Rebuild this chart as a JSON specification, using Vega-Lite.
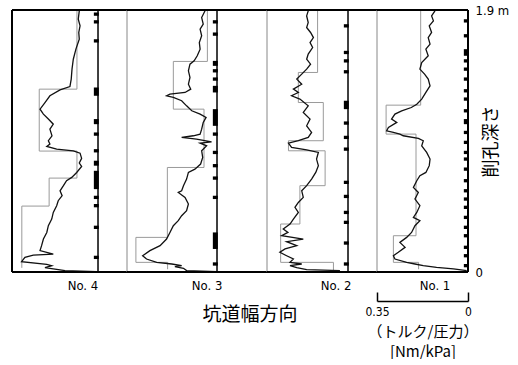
{
"$schema":"https://vega.github.io/schema/vega-lite/v6.json",
"background":"white",
"padding":{"left":11,"top":4,"right":0,"bottom":0},
"autosize":{"type":"pad"},
"bounds":"flush",
"spacing":0,
"config":{"view":{"stroke":null},"axis":{"grid":false}},
"datasets":{
"prof":[
{"no":4,"d":1.894,"v":0.072},{"no":4,"d":1.833,"v":0.076},{"no":4,"d":1.785,"v":0.069},{"no":4,"d":1.737,"v":0.074},{"no":4,"d":1.688,"v":0.072},{"no":4,"d":1.616,"v":0.085},{"no":4,"d":1.543,"v":0.095},{"no":4,"d":1.471,"v":0.100},{"no":4,"d":1.399,"v":0.103},{"no":4,"d":1.345,"v":0.108},{"no":4,"d":1.321,"v":0.146},{"no":4,"d":1.278,"v":0.185},{"no":4,"d":1.229,"v":0.204},{"no":4,"d":1.181,"v":0.223},{"no":4,"d":1.145,"v":0.210},{"no":4,"d":1.109,"v":0.191},{"no":4,"d":1.072,"v":0.172},{"no":4,"d":1.036,"v":0.185},{"no":4,"d":0.988,"v":0.177},{"no":4,"d":0.952,"v":0.191},{"no":4,"d":0.928,"v":0.185},{"no":4,"d":0.911,"v":0.197},{"no":4,"d":0.891,"v":0.159},{"no":4,"d":0.879,"v":0.095},{"no":4,"d":0.862,"v":0.069},{"no":4,"d":0.824,"v":0.063},{"no":4,"d":0.790,"v":0.072},{"no":4,"d":0.766,"v":0.063},{"no":4,"d":0.722,"v":0.082},{"no":4,"d":0.686,"v":0.101},{"no":4,"d":0.662,"v":0.121},{"no":4,"d":0.626,"v":0.133},{"no":4,"d":0.589,"v":0.146},{"no":4,"d":0.553,"v":0.138},{"no":4,"d":0.517,"v":0.153},{"no":4,"d":0.481,"v":0.159},{"no":4,"d":0.432,"v":0.172},{"no":4,"d":0.384,"v":0.178},{"no":4,"d":0.336,"v":0.191},{"no":4,"d":0.287,"v":0.197},{"no":4,"d":0.239,"v":0.210},{"no":4,"d":0.191,"v":0.217},{"no":4,"d":0.155,"v":0.223},{"no":4,"d":0.130,"v":0.172},{"no":4,"d":0.123,"v":0.249},{"no":4,"d":0.106,"v":0.281},{"no":4,"d":0.075,"v":0.294},{"no":4,"d":0.056,"v":0.197},{"no":4,"d":0.046,"v":0.178},{"no":4,"d":0.031,"v":0.204},{"no":4,"d":0.022,"v":0.172},{"no":4,"d":0.010,"v":0.127},{"no":4,"d":0.002,"v":0.005},
{"no":3,"d":1.894,"v":0.046},{"no":3,"d":1.845,"v":0.059},{"no":3,"d":1.797,"v":0.053},{"no":3,"d":1.761,"v":0.065},{"no":3,"d":1.713,"v":0.059},{"no":3,"d":1.664,"v":0.068},{"no":3,"d":1.616,"v":0.065},{"no":3,"d":1.568,"v":0.076},{"no":3,"d":1.531,"v":0.088},{"no":3,"d":1.507,"v":0.104},{"no":3,"d":1.459,"v":0.110},{"no":3,"d":1.411,"v":0.104},{"no":3,"d":1.362,"v":0.110},{"no":3,"d":1.326,"v":0.101},{"no":3,"d":1.302,"v":0.123},{"no":3,"d":1.290,"v":0.181},{"no":3,"d":1.278,"v":0.194},{"no":3,"d":1.266,"v":0.168},{"no":3,"d":1.242,"v":0.136},{"no":3,"d":1.205,"v":0.117},{"no":3,"d":1.169,"v":0.097},{"no":3,"d":1.145,"v":0.065},{"no":3,"d":1.121,"v":0.042},{"no":3,"d":1.085,"v":0.053},{"no":3,"d":1.036,"v":0.059},{"no":3,"d":1.000,"v":0.065},{"no":3,"d":0.988,"v":0.091},{"no":3,"d":0.976,"v":0.136},{"no":3,"d":0.964,"v":0.079},{"no":3,"d":0.944,"v":0.021},{"no":3,"d":0.935,"v":0.065},{"no":3,"d":0.915,"v":0.040},{"no":3,"d":0.879,"v":0.059},{"no":3,"d":0.831,"v":0.055},{"no":3,"d":0.783,"v":0.063},{"no":3,"d":0.746,"v":0.085},{"no":3,"d":0.722,"v":0.110},{"no":3,"d":0.674,"v":0.117},{"no":3,"d":0.626,"v":0.129},{"no":3,"d":0.589,"v":0.136},{"no":3,"d":0.577,"v":0.149},{"no":3,"d":0.541,"v":0.123},{"no":3,"d":0.493,"v":0.110},{"no":3,"d":0.444,"v":0.117},{"no":3,"d":0.408,"v":0.136},{"no":3,"d":0.372,"v":0.149},{"no":3,"d":0.336,"v":0.168},{"no":3,"d":0.287,"v":0.181},{"no":3,"d":0.239,"v":0.194},{"no":3,"d":0.191,"v":0.219},{"no":3,"d":0.155,"v":0.258},{"no":3,"d":0.118,"v":0.286},{"no":3,"d":0.094,"v":0.271},{"no":3,"d":0.070,"v":0.232},{"no":3,"d":0.058,"v":0.174},{"no":3,"d":0.046,"v":0.136},{"no":3,"d":0.039,"v":0.162},{"no":3,"d":0.027,"v":0.129},{"no":3,"d":0.010,"v":0.117},{"no":3,"d":0.002,"v":0.001},
{"no":2,"d":1.894,"v":0.153},{"no":2,"d":1.857,"v":0.159},{"no":2,"d":1.809,"v":0.153},{"no":2,"d":1.773,"v":0.159},{"no":2,"d":1.737,"v":0.144},{"no":2,"d":1.700,"v":0.133},{"no":2,"d":1.664,"v":0.146},{"no":2,"d":1.628,"v":0.136},{"no":2,"d":1.580,"v":0.153},{"no":2,"d":1.543,"v":0.159},{"no":2,"d":1.507,"v":0.144},{"no":2,"d":1.471,"v":0.159},{"no":2,"d":1.435,"v":0.178},{"no":2,"d":1.399,"v":0.197},{"no":2,"d":1.362,"v":0.178},{"no":2,"d":1.326,"v":0.210},{"no":2,"d":1.302,"v":0.191},{"no":2,"d":1.278,"v":0.217},{"no":2,"d":1.254,"v":0.185},{"no":2,"d":1.205,"v":0.153},{"no":2,"d":1.157,"v":0.172},{"no":2,"d":1.109,"v":0.146},{"no":2,"d":1.060,"v":0.159},{"no":2,"d":1.012,"v":0.140},{"no":2,"d":0.976,"v":0.153},{"no":2,"d":0.952,"v":0.191},{"no":2,"d":0.935,"v":0.229},{"no":2,"d":0.903,"v":0.217},{"no":2,"d":0.886,"v":0.159},{"no":2,"d":0.867,"v":0.114},{"no":2,"d":0.819,"v":0.121},{"no":2,"d":0.771,"v":0.114},{"no":2,"d":0.722,"v":0.124},{"no":2,"d":0.674,"v":0.140},{"no":2,"d":0.626,"v":0.159},{"no":2,"d":0.589,"v":0.178},{"no":2,"d":0.541,"v":0.172},{"no":2,"d":0.504,"v":0.191},{"no":2,"d":0.469,"v":0.204},{"no":2,"d":0.432,"v":0.191},{"no":2,"d":0.384,"v":0.210},{"no":2,"d":0.348,"v":0.223},{"no":2,"d":0.312,"v":0.249},{"no":2,"d":0.287,"v":0.231},{"no":2,"d":0.263,"v":0.255},{"no":2,"d":0.239,"v":0.172},{"no":2,"d":0.220,"v":0.236},{"no":2,"d":0.191,"v":0.197},{"no":2,"d":0.167,"v":0.242},{"no":2,"d":0.143,"v":0.262},{"no":2,"d":0.118,"v":0.236},{"no":2,"d":0.094,"v":0.210},{"no":2,"d":0.070,"v":0.223},{"no":2,"d":0.058,"v":0.178},{"no":2,"d":0.046,"v":0.223},{"no":2,"d":0.031,"v":0.197},{"no":2,"d":0.017,"v":0.159},{"no":2,"d":0.010,"v":0.031},
{"no":1,"d":1.894,"v":0.127},{"no":1,"d":1.857,"v":0.140},{"no":1,"d":1.821,"v":0.133},{"no":1,"d":1.785,"v":0.149},{"no":1,"d":1.737,"v":0.140},{"no":1,"d":1.700,"v":0.153},{"no":1,"d":1.652,"v":0.146},{"no":1,"d":1.616,"v":0.162},{"no":1,"d":1.568,"v":0.153},{"no":1,"d":1.519,"v":0.178},{"no":1,"d":1.471,"v":0.185},{"no":1,"d":1.435,"v":0.167},{"no":1,"d":1.399,"v":0.153},{"no":1,"d":1.350,"v":0.146},{"no":1,"d":1.302,"v":0.162},{"no":1,"d":1.254,"v":0.178},{"no":1,"d":1.217,"v":0.197},{"no":1,"d":1.193,"v":0.218},{"no":1,"d":1.169,"v":0.255},{"no":1,"d":1.145,"v":0.281},{"no":1,"d":1.109,"v":0.294},{"no":1,"d":1.085,"v":0.274},{"no":1,"d":1.048,"v":0.306},{"no":1,"d":1.024,"v":0.313},{"no":1,"d":1.012,"v":0.287},{"no":1,"d":1.000,"v":0.262},{"no":1,"d":0.988,"v":0.249},{"no":1,"d":0.969,"v":0.191},{"no":1,"d":0.952,"v":0.172},{"no":1,"d":0.915,"v":0.178},{"no":1,"d":0.867,"v":0.159},{"no":1,"d":0.819,"v":0.146},{"no":1,"d":0.771,"v":0.149},{"no":1,"d":0.722,"v":0.162},{"no":1,"d":0.698,"v":0.185},{"no":1,"d":0.662,"v":0.197},{"no":1,"d":0.614,"v":0.210},{"no":1,"d":0.577,"v":0.191},{"no":1,"d":0.529,"v":0.204},{"no":1,"d":0.481,"v":0.185},{"no":1,"d":0.432,"v":0.197},{"no":1,"d":0.396,"v":0.210},{"no":1,"d":0.372,"v":0.185},{"no":1,"d":0.336,"v":0.204},{"no":1,"d":0.287,"v":0.217},{"no":1,"d":0.251,"v":0.236},{"no":1,"d":0.215,"v":0.262},{"no":1,"d":0.179,"v":0.242},{"no":1,"d":0.143,"v":0.268},{"no":1,"d":0.118,"v":0.287},{"no":1,"d":0.094,"v":0.281},{"no":1,"d":0.070,"v":0.236},{"no":1,"d":0.058,"v":0.204},{"no":1,"d":0.046,"v":0.172},{"no":1,"d":0.034,"v":0.121},{"no":1,"d":0.022,"v":0.056},{"no":1,"d":0.010,"v":0.005}
],
"step":[
{"no":4,"d":1.9,"v":0.081},{"no":4,"d":1.326,"v":0.081},{"no":4,"d":1.326,"v":0.226},{"no":4,"d":0.877,"v":0.226},{"no":4,"d":0.877,"v":0.081},{"no":4,"d":0.681,"v":0.081},{"no":4,"d":0.681,"v":0.188},{"no":4,"d":0.478,"v":0.188},{"no":4,"d":0.478,"v":0.293},{"no":4,"d":0.03,"v":0.293},
{"no":3,"d":1.9,"v":0.037},{"no":3,"d":1.527,"v":0.037},{"no":3,"d":1.527,"v":0.168},{"no":3,"d":1.181,"v":0.168},{"no":3,"d":1.181,"v":0.050},{"no":3,"d":0.758,"v":0.050},{"no":3,"d":0.758,"v":0.191},{"no":3,"d":0.251,"v":0.191},{"no":3,"d":0.251,"v":0.312},{"no":3,"d":0.070,"v":0.312},{"no":3,"d":0.070,"v":0.19},{"no":3,"d":0.02,"v":0.19},
{"no":2,"d":1.9,"v":0.117},{"no":2,"d":1.447,"v":0.117},{"no":2,"d":1.447,"v":0.191},{"no":2,"d":1.229,"v":0.191},{"no":2,"d":1.229,"v":0.095},{"no":2,"d":0.952,"v":0.095},{"no":2,"d":0.952,"v":0.229},{"no":2,"d":0.879,"v":0.229},{"no":2,"d":0.879,"v":0.088},{"no":2,"d":0.626,"v":0.088},{"no":2,"d":0.626,"v":0.185},{"no":2,"d":0.348,"v":0.185},{"no":2,"d":0.348,"v":0.259},{"no":2,"d":0.070,"v":0.259},{"no":2,"d":0.070,"v":0.056},{"no":2,"d":0.010,"v":0.056},
{"no":1,"d":1.9,"v":0.182},{"no":1,"d":1.210,"v":0.182},{"no":1,"d":1.210,"v":0.315},{"no":1,"d":1.0,"v":0.315},{"no":1,"d":1.0,"v":0.2},{"no":1,"d":0.263,"v":0.2},{"no":1,"d":0.263,"v":0.287},{"no":1,"d":0.070,"v":0.287},{"no":1,"d":0.070,"v":0.19},{"no":1,"d":0.02,"v":0.19}
],
"joint":[
{"no":4,"d1":1.858,"d2":1.882},{"no":4,"d1":1.802,"d2":1.826},{"no":4,"d1":1.664,"d2":1.688},{"no":4,"d1":1.278,"d2":1.338},{"no":4,"d1":1.072,"d2":1.109},{"no":4,"d1":0.988,"d2":1.012},{"no":4,"d1":0.867,"d2":0.891},{"no":4,"d1":0.771,"d2":0.807},{"no":4,"d1":0.601,"d2":0.734},{"no":4,"d1":0.529,"d2":0.553},{"no":4,"d1":0.469,"d2":0.493},{"no":4,"d1":0.312,"d2":0.336},{"no":4,"d1":0.094,"d2":0.118},
{"no":3,"d1":1.802,"d2":1.826},{"no":3,"d1":1.713,"d2":1.737},{"no":3,"d1":1.495,"d2":1.531},{"no":3,"d1":1.447,"d2":1.471},{"no":3,"d1":1.387,"d2":1.411},{"no":3,"d1":1.302,"d2":1.350},{"no":3,"d1":1.060,"d2":1.181},{"no":3,"d1":0.988,"d2":1.012},{"no":3,"d1":0.855,"d2":0.879},{"no":3,"d1":0.759,"d2":0.783},{"no":3,"d1":0.669,"d2":0.693},{"no":3,"d1":0.529,"d2":0.553},{"no":3,"d1":0.167,"d2":0.287},{"no":3,"d1":0.046,"d2":0.070},
{"no":2,"d1":1.773,"d2":1.797},{"no":2,"d1":1.580,"d2":1.604},{"no":2,"d1":1.519,"d2":1.543},{"no":2,"d1":1.440,"d2":1.464},{"no":2,"d1":1.181,"d2":1.242},{"no":2,"d1":1.068,"d2":1.092},{"no":2,"d1":0.964,"d2":0.988},{"no":2,"d1":0.879,"d2":0.903},{"no":2,"d1":0.638,"d2":0.662},{"no":2,"d1":0.536,"d2":0.560},{"no":2,"d1":0.420,"d2":0.444},{"no":2,"d1":0.348,"d2":0.372},{"no":2,"d1":0.198,"d2":0.222},{"no":2,"d1":0.046,"d2":0.070},
{"no":1,"d1":1.809,"d2":1.833},{"no":1,"d1":1.701,"d2":1.725},{"no":1,"d1":1.568,"d2":1.616},{"no":1,"d1":1.519,"d2":1.543},{"no":1,"d1":1.459,"d2":1.483},{"no":1,"d1":1.387,"d2":1.411},{"no":1,"d1":1.302,"d2":1.326},{"no":1,"d1":1.242,"d2":1.266},{"no":1,"d1":1.157,"d2":1.181},{"no":1,"d1":1.072,"d2":1.109},{"no":1,"d1":1.000,"d2":1.024},{"no":1,"d1":0.928,"d2":0.952},{"no":1,"d1":0.855,"d2":0.879},{"no":1,"d1":0.807,"d2":0.831},{"no":1,"d1":0.734,"d2":0.758},{"no":1,"d1":0.650,"d2":0.674},{"no":1,"d1":0.577,"d2":0.601},{"no":1,"d1":0.517,"d2":0.541},{"no":1,"d1":0.457,"d2":0.481},{"no":1,"d1":0.384,"d2":0.408},{"no":1,"d1":0.312,"d2":0.336},{"no":1,"d1":0.251,"d2":0.275},{"no":1,"d1":0.167,"d2":0.191},{"no":1,"d1":0.106,"d2":0.130},{"no":1,"d1":0.034,"d2":0.058}
]
},
"hconcat":[
{"width":115,"height":262,"layer":[
{"data":{"values":[{}]},"mark":{"type":"rule","color":"#000","strokeWidth":2},"encoding":{"x":{"datum":0.3308,"type":"quantitative","scale":{"domain":[-0.1115,0.3308],"reverse":true,"nice":false,"zero":false},"axis":null}}},
{"data":{"name":"step"},"transform":[{"filter":"datum.no == 4"}],"mark":{"type":"line","color":"#9a9a9a","strokeWidth":1},"encoding":{"x":{"field":"v","type":"quantitative","scale":{"domain":[-0.1115,0.3308],"reverse":true,"nice":false,"zero":false},"axis":null},"y":{"field":"d","type":"quantitative","scale":{"domain":[0,1.9],"nice":false,"zero":false},"axis":null},"order":{"value":null}}},
{"data":{"name":"prof"},"transform":[{"filter":"datum.no == 4"}],"mark":{"type":"line","color":"#111","strokeWidth":1.3},"encoding":{"x":{"field":"v","type":"quantitative","scale":{"domain":[-0.1115,0.3308],"reverse":true,"nice":false,"zero":false},"axis":null},"y":{"field":"d","type":"quantitative","scale":{"domain":[0,1.9],"nice":false,"zero":false},"axis":null},"order":{"value":null}}},
{"data":{"name":"joint"},"transform":[{"filter":"datum.no == 4"}],"mark":{"type":"rect","color":"#000"},"encoding":{"x":{"datum":0.016,"type":"quantitative","scale":{"domain":[-0.1115,0.3308],"reverse":true,"nice":false,"zero":false},"axis":null},"x2":{"datum":-0.003},"y":{"field":"d1","type":"quantitative","scale":{"domain":[0,1.9],"nice":false,"zero":false},"axis":null},"y2":{"field":"d2"}}},
{"data":{"values":[{}]},"mark":{"type":"rule","color":"#000","strokeWidth":1.5},"encoding":{"x":{"datum":0,"type":"quantitative","scale":{"domain":[-0.1115,0.3308],"reverse":true,"nice":false,"zero":false},"axis":null}}},
{"data":{"values":[{}]},"mark":{"type":"rule","color":"#000","strokeWidth":2},"encoding":{"y":{"datum":1.9,"type":"quantitative","scale":{"domain":[0,1.9],"nice":false,"zero":false},"axis":null}}},
{"data":{"values":[{}]},"mark":{"type":"rule","color":"#000","strokeWidth":2},"encoding":{"y":{"datum":0,"type":"quantitative","scale":{"domain":[0,1.9],"nice":false,"zero":false},"axis":null}}},
{"data":{"values":[{"label":"No. 4"}]},"mark":{"type":"text","font":"Liberation Sans Narrow, DejaVu Sans Condensed, sans-serif","fontSize":13,"color":"#000","baseline":"middle"},"encoding":{"x":{"datum":0.058,"type":"quantitative","scale":{"domain":[-0.1115,0.3308],"reverse":true,"nice":false,"zero":false},"axis":null},"y":{"datum":-0.1,"type":"quantitative","scale":{"domain":[0,1.9],"nice":false,"zero":false},"axis":null},"text":{"field":"label"}}}
]},
{"width":140,"height":262,"layer":[
{"data":{"values":[{}]},"mark":{"type":"rule","color":"#888","strokeWidth":1},"encoding":{"x":{"datum":0.3462,"type":"quantitative","scale":{"domain":[-0.1923,0.3462],"reverse":true,"nice":false,"zero":false},"axis":null}}},
{"data":{"name":"step"},"transform":[{"filter":"datum.no == 3"}],"mark":{"type":"line","color":"#9a9a9a","strokeWidth":1},"encoding":{"x":{"field":"v","type":"quantitative","scale":{"domain":[-0.1923,0.3462],"reverse":true,"nice":false,"zero":false},"axis":null},"y":{"field":"d","type":"quantitative","scale":{"domain":[0,1.9],"nice":false,"zero":false},"axis":null},"order":{"value":null}}},
{"data":{"name":"prof"},"transform":[{"filter":"datum.no == 3"}],"mark":{"type":"line","color":"#111","strokeWidth":1.3},"encoding":{"x":{"field":"v","type":"quantitative","scale":{"domain":[-0.1923,0.3462],"reverse":true,"nice":false,"zero":false},"axis":null},"y":{"field":"d","type":"quantitative","scale":{"domain":[0,1.9],"nice":false,"zero":false},"axis":null},"order":{"value":null}}},
{"data":{"name":"joint"},"transform":[{"filter":"datum.no == 3"}],"mark":{"type":"rect","color":"#000"},"encoding":{"x":{"datum":0.016,"type":"quantitative","scale":{"domain":[-0.1923,0.3462],"reverse":true,"nice":false,"zero":false},"axis":null},"x2":{"datum":-0.003},"y":{"field":"d1","type":"quantitative","scale":{"domain":[0,1.9],"nice":false,"zero":false},"axis":null},"y2":{"field":"d2"}}},
{"data":{"values":[{}]},"mark":{"type":"rule","color":"#000","strokeWidth":1.5},"encoding":{"x":{"datum":0,"type":"quantitative","scale":{"domain":[-0.1923,0.3462],"reverse":true,"nice":false,"zero":false},"axis":null}}},
{"data":{"values":[{}]},"mark":{"type":"rule","color":"#000","strokeWidth":2},"encoding":{"y":{"datum":1.9,"type":"quantitative","scale":{"domain":[0,1.9],"nice":false,"zero":false},"axis":null}}},
{"data":{"values":[{}]},"mark":{"type":"rule","color":"#000","strokeWidth":2},"encoding":{"y":{"datum":0,"type":"quantitative","scale":{"domain":[0,1.9],"nice":false,"zero":false},"axis":null}}},
{"data":{"values":[{"label":"No. 3"}]},"mark":{"type":"text","font":"Liberation Sans Narrow, DejaVu Sans Condensed, sans-serif","fontSize":13,"color":"#000","baseline":"middle"},"encoding":{"x":{"datum":0.038,"type":"quantitative","scale":{"domain":[-0.1923,0.3462],"reverse":true,"nice":false,"zero":false},"axis":null},"y":{"datum":-0.1,"type":"quantitative","scale":{"domain":[0,1.9],"nice":false,"zero":false},"axis":null},"text":{"field":"label"}}},
{"data":{"values":[{"label":"坑道幅方向"}]},"mark":{"type":"text","font":"Noto Sans CJK JP","fontSize":19,"color":"#000","baseline":"middle"},"encoding":{"x":{"datum":-0.127,"type":"quantitative","scale":{"domain":[-0.1923,0.3462],"reverse":true,"nice":false,"zero":false},"axis":null},"y":{"datum":-0.315,"type":"quantitative","scale":{"domain":[0,1.9],"nice":false,"zero":false},"axis":null},"text":{"field":"label"}}}
]},
{"width":110,"height":262,"layer":[
{"data":{"values":[{}]},"mark":{"type":"rule","color":"#888","strokeWidth":1},"encoding":{"x":{"datum":0.3115,"type":"quantitative","scale":{"domain":[-0.1115,0.3115],"reverse":true,"nice":false,"zero":false},"axis":null}}},
{"data":{"name":"step"},"transform":[{"filter":"datum.no == 2"}],"mark":{"type":"line","color":"#9a9a9a","strokeWidth":1},"encoding":{"x":{"field":"v","type":"quantitative","scale":{"domain":[-0.1115,0.3115],"reverse":true,"nice":false,"zero":false},"axis":null},"y":{"field":"d","type":"quantitative","scale":{"domain":[0,1.9],"nice":false,"zero":false},"axis":null},"order":{"value":null}}},
{"data":{"name":"prof"},"transform":[{"filter":"datum.no == 2"}],"mark":{"type":"line","color":"#111","strokeWidth":1.3},"encoding":{"x":{"field":"v","type":"quantitative","scale":{"domain":[-0.1115,0.3115],"reverse":true,"nice":false,"zero":false},"axis":null},"y":{"field":"d","type":"quantitative","scale":{"domain":[0,1.9],"nice":false,"zero":false},"axis":null},"order":{"value":null}}},
{"data":{"name":"joint"},"transform":[{"filter":"datum.no == 2"}],"mark":{"type":"rect","color":"#000"},"encoding":{"x":{"datum":0.016,"type":"quantitative","scale":{"domain":[-0.1115,0.3115],"reverse":true,"nice":false,"zero":false},"axis":null},"x2":{"datum":-0.003},"y":{"field":"d1","type":"quantitative","scale":{"domain":[0,1.9],"nice":false,"zero":false},"axis":null},"y2":{"field":"d2"}}},
{"data":{"values":[{}]},"mark":{"type":"rule","color":"#000","strokeWidth":1.5},"encoding":{"x":{"datum":0,"type":"quantitative","scale":{"domain":[-0.1115,0.3115],"reverse":true,"nice":false,"zero":false},"axis":null}}},
{"data":{"values":[{}]},"mark":{"type":"rule","color":"#000","strokeWidth":2},"encoding":{"y":{"datum":1.9,"type":"quantitative","scale":{"domain":[0,1.9],"nice":false,"zero":false},"axis":null}}},
{"data":{"values":[{}]},"mark":{"type":"rule","color":"#000","strokeWidth":2},"encoding":{"y":{"datum":0,"type":"quantitative","scale":{"domain":[0,1.9],"nice":false,"zero":false},"axis":null}}},
{"data":{"values":[{"label":"No. 2"}]},"mark":{"type":"text","font":"Liberation Sans Narrow, DejaVu Sans Condensed, sans-serif","fontSize":13,"color":"#000","baseline":"middle"},"encoding":{"x":{"datum":0.046,"type":"quantitative","scale":{"domain":[-0.1115,0.3115],"reverse":true,"nice":false,"zero":false},"axis":null},"y":{"datum":-0.1,"type":"quantitative","scale":{"domain":[0,1.9],"nice":false,"zero":false},"axis":null},"text":{"field":"label"}}}
]},
{"width":91,"height":262,"resolve":{"axis":{"x":"independent","y":"independent"}},"layer":[
{"data":{"values":[{}]},"mark":{"type":"rule","color":"#888","strokeWidth":1},"encoding":{"x":{"datum":0.35,"type":"quantitative","scale":{"domain":[0,0.35],"reverse":true,"nice":false,"zero":false},"axis":null}}},
{"data":{"name":"step"},"transform":[{"filter":"datum.no == 1"}],"mark":{"type":"line","color":"#9a9a9a","strokeWidth":1},"encoding":{"x":{"field":"v","type":"quantitative","scale":{"domain":[0,0.35],"reverse":true,"nice":false,"zero":false},"axis":null},"y":{"field":"d","type":"quantitative","scale":{"domain":[0,1.9],"nice":false,"zero":false},"axis":null},"order":{"value":null}}},
{"data":{"name":"prof"},"transform":[{"filter":"datum.no == 1"}],"mark":{"type":"line","color":"#111","strokeWidth":1.3},"encoding":{"x":{"field":"v","type":"quantitative","scale":{"domain":[0,0.35],"reverse":true,"nice":false,"zero":false},"axis":{"orient":"bottom","offset":29,"values":[0,0.35],"tickSize":-9,"tickColor":"#000","tickWidth":1.5,"domainColor":"#000","domainWidth":1.5,"labelFlush":false,"labelFont":"Liberation Sans Narrow, DejaVu Sans Condensed, sans-serif","labelFontSize":12,"labelColor":"#000","labelPadding":14,"labelExpr":"datum.value == 0 ? '0' : '0.35'","title":["（トルク/圧力）","[Nm/kPa]"],"titleFont":"Noto Sans CJK JP","titleFontSize":15,"titleFontWeight":"normal","titleColor":"#000","titlePadding":7,"titleLineHeight":20}},"y":{"field":"d","type":"quantitative","scale":{"domain":[0,1.9],"nice":false,"zero":false},"axis":{"orient":"right","values":[0,1.9],"ticks":false,"domain":false,"labelExpr":"datum.value > 1 ? '1.9 m' : '0'","labelFont":"Liberation Sans Narrow, DejaVu Sans Condensed, sans-serif","labelFontSize":13,"labelColor":"#000","labelPadding":7,"labelFlush":false,"labelBaseline":"middle","title":"削孔深さ","titleFont":"Noto Sans CJK JP","titleFontSize":18,"titleFontWeight":"normal","titleColor":"#000","titleAngle":270,"titleX":23,"titleY":131,"titleAlign":"center","titleBaseline":"middle"}},"order":{"value":null}}},
{"data":{"name":"joint"},"transform":[{"filter":"datum.no == 1"}],"mark":{"type":"rect","color":"#000"},"encoding":{"x":{"datum":0.016,"type":"quantitative","scale":{"domain":[0,0.35],"reverse":true,"nice":false,"zero":false},"axis":null},"x2":{"datum":-0.003},"y":{"field":"d1","type":"quantitative","scale":{"domain":[0,1.9],"nice":false,"zero":false},"axis":null},"y2":{"field":"d2"}}},
{"data":{"values":[{}]},"mark":{"type":"rule","color":"#000","strokeWidth":2},"encoding":{"x":{"datum":0,"type":"quantitative","scale":{"domain":[0,0.35],"reverse":true,"nice":false,"zero":false},"axis":null}}},
{"data":{"values":[{}]},"mark":{"type":"rule","color":"#000","strokeWidth":2},"encoding":{"y":{"datum":1.9,"type":"quantitative","scale":{"domain":[0,1.9],"nice":false,"zero":false},"axis":null}}},
{"data":{"values":[{}]},"mark":{"type":"rule","color":"#000","strokeWidth":2},"encoding":{"y":{"datum":0,"type":"quantitative","scale":{"domain":[0,1.9],"nice":false,"zero":false},"axis":null}}},
{"data":{"values":[{"label":"No. 1"}]},"mark":{"type":"text","font":"Liberation Sans Narrow, DejaVu Sans Condensed, sans-serif","fontSize":13,"color":"#000","baseline":"middle"},"encoding":{"x":{"datum":0.127,"type":"quantitative","scale":{"domain":[0,0.35],"reverse":true,"nice":false,"zero":false},"axis":null},"y":{"datum":-0.1,"type":"quantitative","scale":{"domain":[0,1.9],"nice":false,"zero":false},"axis":null},"text":{"field":"label"}}}
]}
]
}
